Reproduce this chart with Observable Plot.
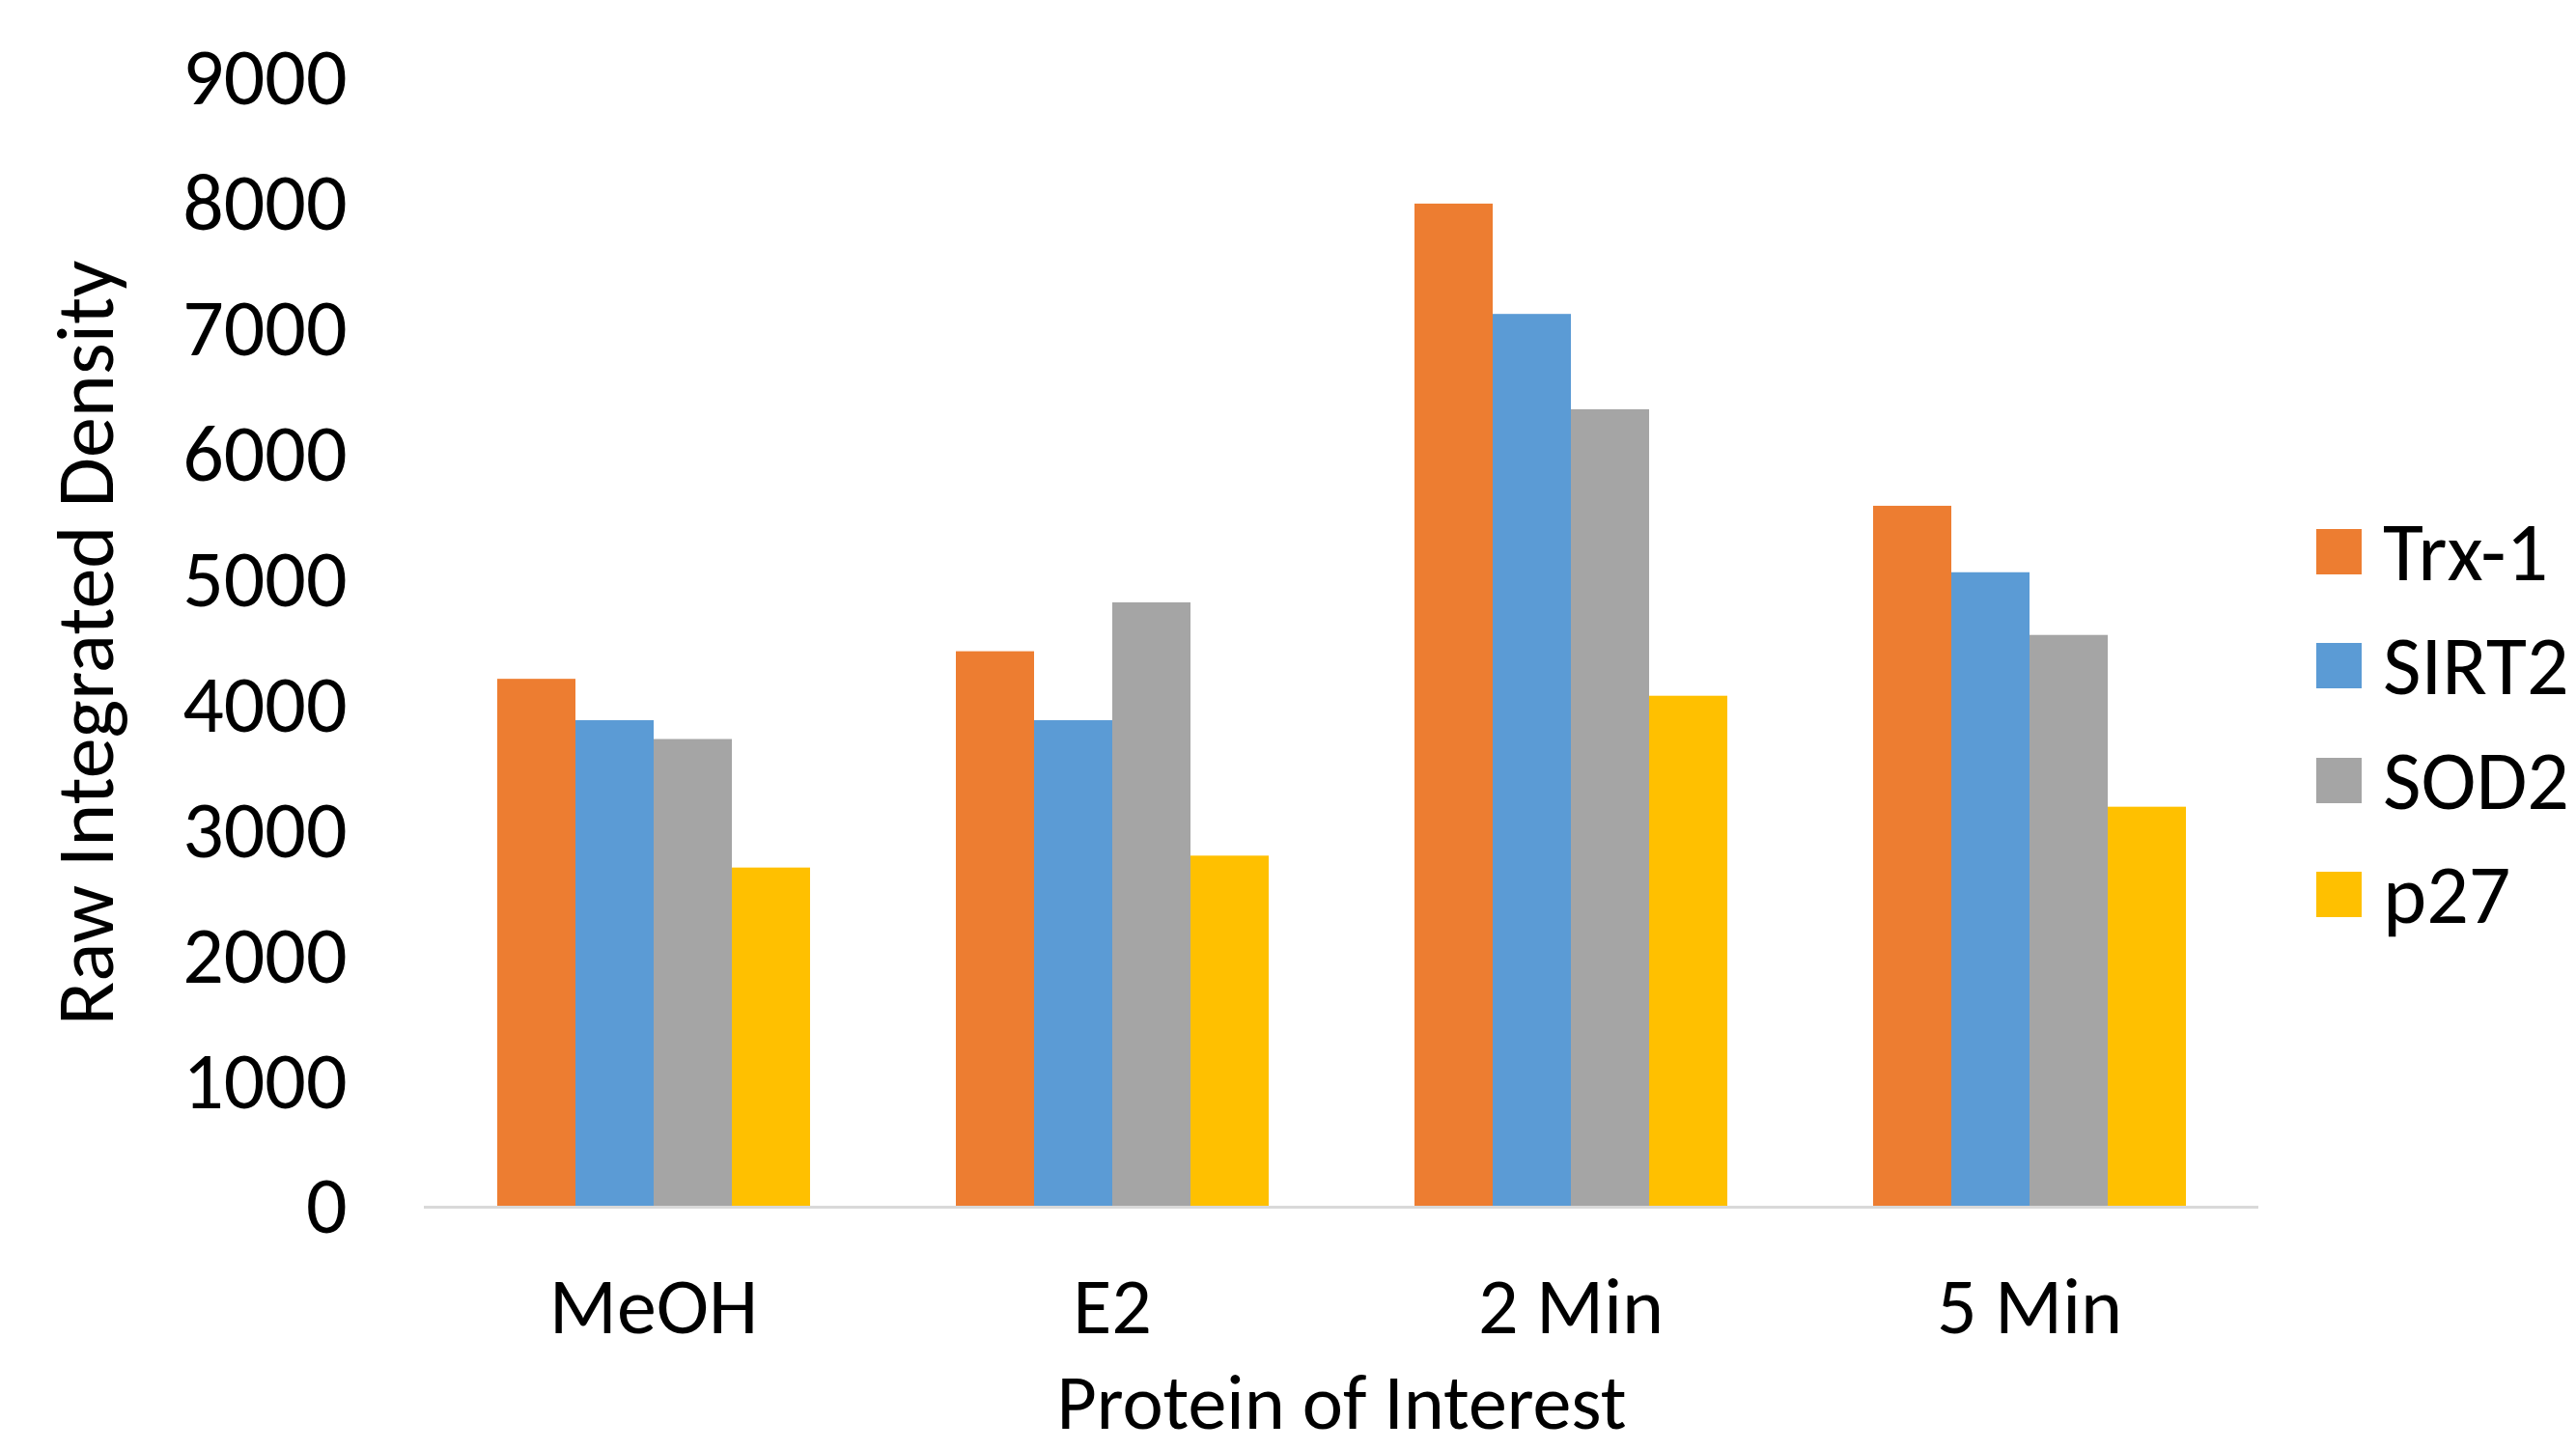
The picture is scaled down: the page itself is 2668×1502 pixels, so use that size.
<!DOCTYPE html>
<html>
<head>
<meta charset="utf-8">
<script src="https://cdn.jsdelivr.net/npm/d3@7"></script>
<script src="https://cdn.jsdelivr.net/npm/@observablehq/plot@0.6"></script>
<style>
  html, body { margin: 0; padding: 0; background: #fff; }
  #wrap { position: relative; width: 2668px; height: 1502px; font-family: Carlito, Lato, sans-serif; }
  #legend { position: absolute; left: 2399px; top: 512px; }
  .item { display: flex; align-items: center; height: 118.5px; font-size: 86px; color: #000; }
  .sw { width: 47px; height: 47px; margin-right: 22px; flex: none; }
</style>
</head>
<body>
<div id="wrap"><div id="chart"></div><div id="legend"></div></div>
<script>
const categories = ["MeOH", "E2", "2 Min", "5 Min"];
const series = ["Trx-1", "SIRT2", "SOD2", "p27"];
const trx1  = [4210, 4430, 8000, 5590];
const sirt2 = [3880, 3880, 7120, 5060];
const sod2  = [3730, 4820, 6360, 4560];
const p27   = [2705, 2800, 4075, 3190];
const colors = ["#ED7D31", "#5B9BD5", "#A5A5A5", "#FFC000"];
const yTicks = [0, 1000, 2000, 3000, 4000, 5000, 6000, 7000, 8000, 9000];

const values = [trx1, sirt2, sod2, p27];
const data = categories.flatMap((c, i) => series.map((s, j) => ({category: c, series: s, value: values[j][i]})));

const chart = Plot.plot({
  width: 2668,
  height: 1502,
  marginLeft: 437,
  marginRight: 328,
  marginTop: 81,
  marginBottom: 252,
  style: {fontFamily: "Carlito, Lato, sans-serif", background: "#fff", color: "#000"},
  fx: {domain: categories, padding: 0},
  x: {domain: series, paddingInner: 0, paddingOuter: 0.911, axis: null},
  y: {domain: [0, 9000]},
  color: {domain: series, range: colors},
  marks: [
    Plot.barY(data, {fx: "category", x: "series", y: "value", fill: "series", inset: 0}),
    Plot.ruleY([0], {stroke: "#d9d9d9", strokeWidth: 3}),
    Plot.axisY({ticks: yTicks, tickSize: 0, tickPadding: 80, fontSize: 84, tickFormat: d => String(d),
      label: "Raw Integrated Density", labelAnchor: "center", labelOffset: 382, labelArrow: false}),
    Plot.axisFx({anchor: "bottom", tickSize: 0, tickPadding: 72, fontSize: 82, labelArrow: false, label: null}),
    Plot.axisFx({anchor: "bottom", ticks: [], tickSize: 0, fontSize: 80,
      label: "Protein of Interest", labelAnchor: "center", labelOffset: 229, labelArrow: false})
  ]
});
document.getElementById("chart").appendChild(chart);

const legend = document.getElementById("legend");
series.forEach((s, i) => {
  const row = document.createElement("div");
  row.className = "item";
  const sw = document.createElement("div");
  sw.className = "sw";
  sw.style.background = colors[i];
  const t = document.createElement("span");
  t.textContent = s;
  row.appendChild(sw);
  row.appendChild(t);
  legend.appendChild(row);
});
</script>
</body>
</html>
